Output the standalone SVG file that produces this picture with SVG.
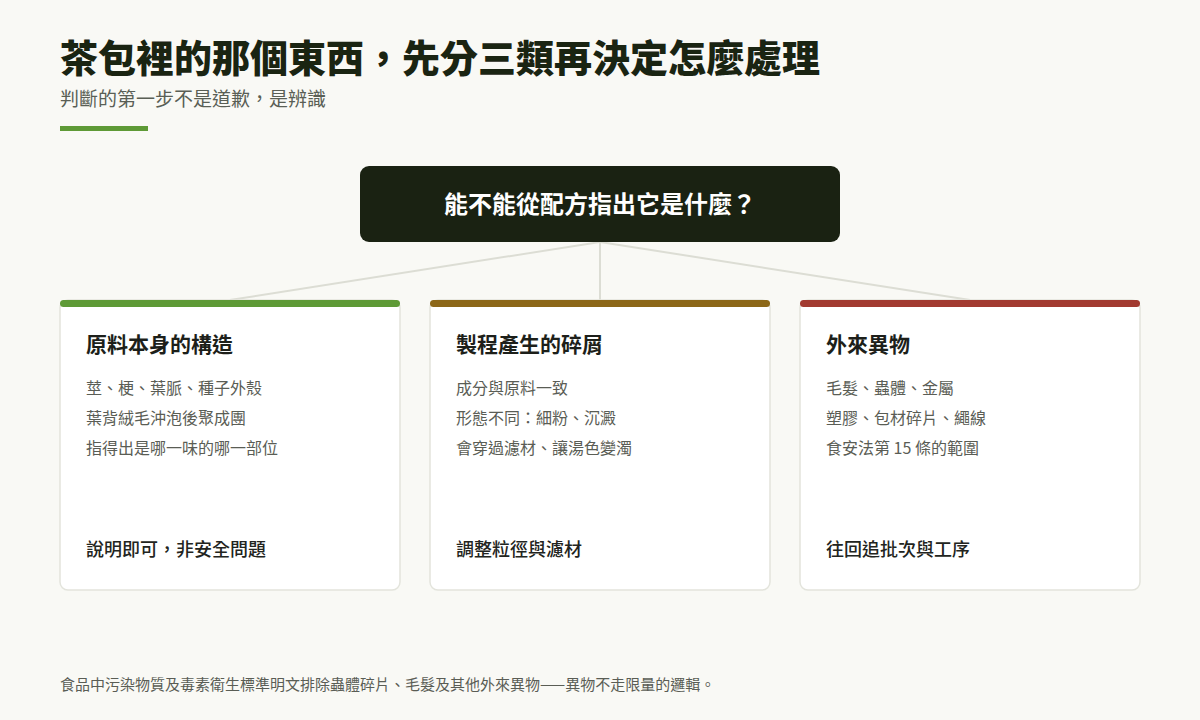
<svg xmlns="http://www.w3.org/2000/svg" width="1200" height="720" viewBox="0 0 1200 720">
<style>
text{font-family:"Noto Sans CJK TC","Noto Sans CJK SC",sans-serif}
.title{font-size:38px;font-weight:900;fill:#1a2412}
.sub{font-size:19px;fill:#5a5f55}
.q{font-size:24px;font-weight:700;fill:#ffffff}
.card{fill:#ffffff;stroke:#e3e4dc;stroke-width:1.5}
.ct{font-size:21px;font-weight:700;fill:#1d1f1a}
.it{font-size:16px;fill:#5a5d55}
.ft{font-size:18px;font-weight:500;fill:#222420}
.note{font-size:15px;fill:#5a5d55}
.conn{stroke:#dcddd4;stroke-width:2;fill:none}
</style>
<rect width="1200" height="720" fill="#f9f9f5"/>
<text class="title" x="60" y="72">茶包裡的那個東西，先分三類再決定怎麼處理</text>
<text class="sub" x="60" y="106">判斷的第一步不是道歉，是辨識</text>
<rect x="60" y="126" width="88" height="5" fill="#5e9a36"/>
<g id="connectors">
<line class="conn" x1="600" y1="242" x2="230" y2="300"/>
<line class="conn" x1="600" y1="242" x2="600" y2="300"/>
<line class="conn" x1="600" y1="242" x2="970" y2="300"/>
</g>
<g id="question">
<rect x="360" y="166" width="480" height="76" rx="9" fill="#1a2212"/>
<text class="q" x="600" y="213" text-anchor="middle">能不能從配方指出它是什麼？</text>
</g>
<g id="card-raw">
<rect class="card" x="60" y="300" width="340" height="290" rx="8"/>
<rect x="60" y="300" width="340" height="7" rx="3.5" fill="#5e9a36"/>
<text class="ct" x="86" y="352">原料本身的構造</text>
<text class="it" x="86" y="394">莖、梗、葉脈、種子外殼</text>
<text class="it" x="86" y="424">葉背絨毛沖泡後聚成團</text>
<text class="it" x="86" y="454">指得出是哪一味的哪一部位</text>
<text class="ft" x="86" y="556">說明即可，非安全問題</text>
</g>
<g id="card-process">
<rect class="card" x="430" y="300" width="340" height="290" rx="8"/>
<rect x="430" y="300" width="340" height="7" rx="3.5" fill="#8c6718"/>
<text class="ct" x="456" y="352">製程產生的碎屑</text>
<text class="it" x="456" y="394">成分與原料一致</text>
<text class="it" x="456" y="424">形態不同：細粉、沉澱</text>
<text class="it" x="456" y="454">會穿過濾材、讓湯色變濁</text>
<text class="ft" x="456" y="556">調整粒徑與濾材</text>
</g>
<g id="card-foreign">
<rect class="card" x="800" y="300" width="340" height="290" rx="8"/>
<rect x="800" y="300" width="340" height="7" rx="3.5" fill="#a23a30"/>
<text class="ct" x="826" y="352">外來異物</text>
<text class="it" x="826" y="394">毛髮、蟲體、金屬</text>
<text class="it" x="826" y="424">塑膠、包材碎片、繩線</text>
<text class="it" x="826" y="454">食安法第 15 條的範圍</text>
<text class="ft" x="826" y="556">往回追批次與工序</text>
</g>
<text class="note" x="60" y="690">食品中污染物質及毒素衛生標準明文排除蟲體碎片、毛髮及其他外來異物——異物不走限量的邏輯。</text>
</svg>
